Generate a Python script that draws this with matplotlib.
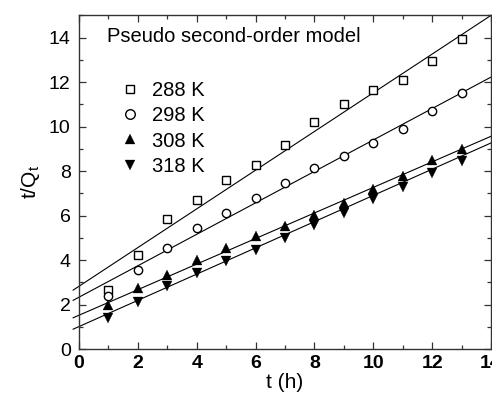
import matplotlib
matplotlib.use("Agg")
import matplotlib.pyplot as plt
import numpy as np
from matplotlib.ticker import MultipleLocator

plt.rcParams['font.family'] = ['Liberation Sans', 'DejaVu Sans']

t = np.arange(1, 14)

q288 = [2.66, 4.23, 5.83, 6.72, 7.58, 8.26, 9.19, 10.2, 11.0, 11.63, 12.08, 12.93, 13.95]
q298 = [2.39, 3.54, 4.56, 5.46, 6.11, 6.80, 7.49, 8.12, 8.67, 9.27, 9.91, 10.70, 11.49]
q308 = [1.97, 2.77, 3.32, 3.99, 4.56, 5.08, 5.53, 6.05, 6.58, 7.20, 7.80, 8.52, 9.01]
q318 = [1.39, 2.12, 2.84, 3.44, 3.96, 4.48, 5.00, 5.56, 6.10, 6.73, 7.30, 7.92, 8.44]

labels = ["288 K", "298 K", "308 K", "318 K"]
# fitted lines: slope, intercept
slopes = [0.869, 0.706, 0.574, 0.589]
intercepts = [2.83, 2.34, 1.53, 1.02]

fig = plt.figure(figsize=(4.92, 4.0), dpi=100)
ax = fig.add_axes([0.1606, 0.1268, 0.8374, 0.835])

styles = [
    dict(marker='s', mfc='white', mec='black', ms=5.5, mew=1.0),
    dict(marker='o', mfc='white', mec='black', ms=6, mew=1.0),
    dict(marker='^', mfc='black', mec='black', ms=6.8, mew=0.2),
    dict(marker='v', mfc='black', mec='black', ms=6.8, mew=0.2),
]

xx = np.array([-0.2, 14.0])
for q, lab, st, k, b in zip([q288, q298, q308, q318], labels, styles, slopes, intercepts):
    ax.plot(t, q, ls='none', label=lab, zorder=3, **st)
    ax.plot(xx, k * xx + b, color='black', lw=0.8, clip_on=False, zorder=2)

ax.set_xlim(0, 14)
ax.set_ylim(0, 15)
ax.xaxis.set_major_locator(MultipleLocator(2))
ax.xaxis.set_minor_locator(MultipleLocator(1))
ax.yaxis.set_major_locator(MultipleLocator(2))
ax.yaxis.set_minor_locator(MultipleLocator(1))
ax.tick_params(which='both', direction='in', top=True, right=True, width=0.9, color='#333333')
ax.tick_params(which='major', length=5)
ax.tick_params(which='minor', length=3)
ax.tick_params(axis='x', labelsize=14, pad=4)
ax.tick_params(axis='y', labelsize=14, pad=6)
for lbl in ax.get_xticklabels():
    lbl.set_fontweight('bold')
for sp in ax.spines.values():
    sp.set_linewidth(1.0)
    sp.set_color('#333333')

ax.set_xlabel("t (h)", fontsize=15, labelpad=1)
ax.set_ylabel("t/Q$_\\mathregular{t}$", fontsize=15, labelpad=5)

ax.text(0.068, 0.935, "Pseudo second-order model", transform=ax.transAxes,
        fontsize=14.5, va='center', ha='left')
ax.legend(loc='upper left', bbox_to_anchor=(0.08, 0.826), frameon=False,
          fontsize=14.5, handlelength=1.0, handletextpad=0.6, labelspacing=0.3,
          borderaxespad=0, markerscale=1.15)

fig.savefig("out.png", dpi=100)
